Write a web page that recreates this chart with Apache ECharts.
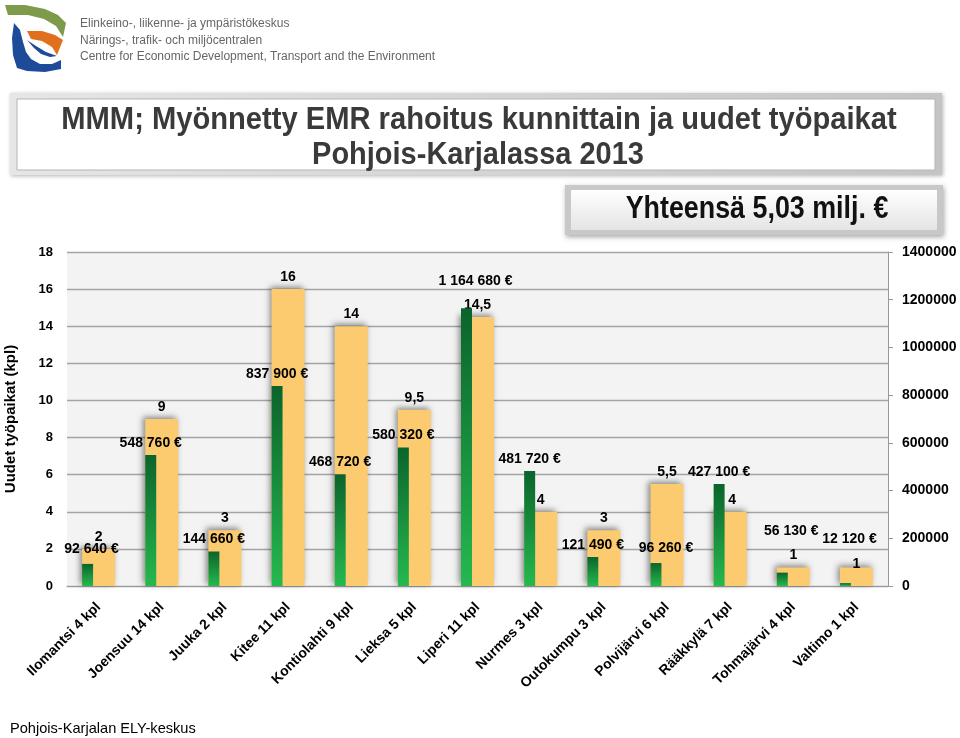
<!DOCTYPE html>
<html>
<head>
<meta charset="utf-8">
<script src="https://cdn.jsdelivr.net/npm/echarts@6/dist/echarts.min.js"></script>
<style>html,body{margin:0;padding:0;background:#fff}#c{width:960px;height:738px}</style>
</head>
<body>
<div id="c"></div>
<script>
const categories = ['Ilomantsi 4 kpl','Joensuu 14 kpl','Juuka 2 kpl','Kitee 11 kpl','Kontiolahti 9 kpl','Lieksa 5 kpl','Liperi 11 kpl','Nurmes 3 kpl','Outokumpu 3 kpl','Polvijärvi 6 kpl','Rääkkylä 7 kpl','Tohmajärvi 4 kpl','Valtimo 1 kpl'];
const jobs = [2, 9, 3, 16, 14, 9.5, 14.5, 4, 3, 5.5, 4, 1, 1];
const funding = [92640, 548760, 144660, 837900, 468720, 580320, 1164680, 481720, 121490, 96260, 427100, 56130, 12120];
const leftTicks = {min: 0, max: 18, interval: 2};
const rightTicks = {min: 0, max: 1400000, interval: 200000};

// label nudges (layout only)
const fundShift = [[4,-3],[0,0],[0,0],[0,0],[0,0],[0,0],[9,-15],[0,0],[0,0],[10,-3],[0,0],[9,-29],[4,-32]];
const jobShift = [[0,0],[0,0],[0,0],[0,0],[0,0],[0,0],[0,0],[0,0],[0,0],[0,0],[2,0],[0,0],[0,9]];

const fmtEur = v => String(v).replace(/\B(?=(\d{3})+(?!\d))/g, ' ') + ' €';
const fmtJob = v => String(v).replace('.', ',');
const FONT = '"Liberation Sans", Arial, sans-serif';

const lin = (x2, y2, stops) => ({type: 'linear', x: 0, y: 0, x2: x2, y2: y2, colorStops: stops.map(s => ({offset: s[0], color: s[1]}))});

const chart = echarts.init(document.getElementById('c'));
const greenGrad = lin(0, 1, [[0, '#0B642B'], [1, '#25B94F']]);

const option = {
  backgroundColor: '#fff',
  animation: false,
  textStyle: {fontFamily: FONT},
  grid: {left: 67, right: 72, top: 252, bottom: 152, show: true, backgroundColor: '#F3F3F3', borderWidth: 0, containLabel: false, outerBoundsMode: 'none'},
  xAxis: {
    type: 'category', data: categories,
    axisLine: {lineStyle: {color: '#999', width: 1}},
    axisTick: {show: false},
    axisLabel: {interval: 0, rotate: 45, fontSize: 14, fontWeight: 'bold', color: '#000', margin: 19, fontFamily: FONT}
  },
  yAxis: [{
    type: 'value', position: 'left', min: leftTicks.min, max: leftTicks.max, interval: leftTicks.interval,
    name: 'Uudet työpaikat (kpl)', nameLocation: 'middle', nameRotate: 90, nameGap: 49,
    nameTextStyle: {fontSize: 15, fontWeight: 'bold', color: '#000', fontFamily: FONT},
    axisLine: {show: false}, axisTick: {show: false},
    axisLabel: {fontSize: 13, fontWeight: 'bold', color: '#000', margin: 14, fontFamily: FONT},
    splitLine: {lineStyle: {color: '#A4A4A4', width: 1.3}}
  }, {
    type: 'value', position: 'right', min: rightTicks.min, max: rightTicks.max, interval: rightTicks.interval,
    axisLine: {show: true, lineStyle: {color: '#999'}},
    axisTick: {show: true, length: 5, lineStyle: {color: '#999'}},
    axisLabel: {fontSize: 14, fontWeight: 'bold', color: '#000', margin: 14, formatter: v => String(v), fontFamily: FONT},
    splitLine: {show: false}
  }],
  series: [{
    name: 'Rahoitus', type: 'bar', yAxisIndex: 1, barWidth: 11, barGap: '-100%', z: 3,
    itemStyle: {color: greenGrad},
    data: funding.map((v, i) => ({value: v, label: {offset: fundShift[i]}})),
    label: {show: true, position: 'top', distance: 5, formatter: p => fmtEur(p.value), fontSize: 14, fontWeight: 'bold', color: '#000', fontFamily: FONT}
  }, {
    name: 'Työpaikat', type: 'bar', yAxisIndex: 0, barWidth: 33, barGap: '-100%', z: 2,
    itemStyle: {color: '#FDCB6F', shadowColor: 'rgba(0,0,0,0.45)', shadowBlur: 6, shadowOffsetX: -2, shadowOffsetY: -2},
    data: jobs.map((v, i) => ({value: v, label: {offset: jobShift[i]}})),
    label: {show: true, position: 'top', distance: 5, formatter: p => fmtJob(p.value), fontSize: 14, fontWeight: 'bold', color: '#000', fontFamily: FONT}
  }],
  graphic: [
    {type: 'polygon', shape: {points: [[5,5],[25,5],[45,9],[58,15],[66,23],[63,37],[56,26],[44,19],[28,15],[8,15]]}, style: {fill: '#7D9B4A'}},
    {type: 'polygon', shape: {points: [[27,31],[42,31],[55,35],[63,40],[57,55],[52,47],[42,41],[31,39]]}, style: {fill: '#E0701E'}},
    {type: 'polygon', shape: {points: [[14,23],[20,30],[23,42],[26,52],[31,59],[40,64],[52,64],[61,60],[61,69],[45,72],[27,71],[17,68],[13,55],[12,38]]}, style: {fill: '#1D4B9A'}},
    {type: 'polygon', shape: {points: [[27,40],[34,48],[41,54],[50,57],[57,56],[46,52],[36,46]]}, style: {fill: '#1D4B9A'}},
    {type: 'text', x: 80, y: 24, style: {text: 'Elinkeino-, liikenne- ja ympäristökeskus', fill: '#666', font: '12px ' + FONT, textVerticalAlign: 'middle'}},
    {type: 'text', x: 80, y: 41, style: {text: 'Närings-, trafik- och miljöcentralen', fill: '#666', font: '12px ' + FONT, textVerticalAlign: 'middle'}},
    {type: 'text', x: 80, y: 57, style: {text: 'Centre for Economic Development, Transport and the Environment', fill: '#666', font: '12px ' + FONT, textVerticalAlign: 'middle'}},
    {type: 'rect', shape: {x: 10, y: 93, width: 932, height: 82}, style: {fill: lin(1, 1, [[0, '#e6e6e6'], [1, '#c4c4c4']]), shadowColor: 'rgba(0,0,0,0.3)', shadowBlur: 4, shadowOffsetX: 1, shadowOffsetY: 1}},
    {type: 'rect', shape: {x: 17, y: 99, width: 918, height: 71}, style: {fill: '#fff', stroke: '#b5b5b5', lineWidth: 1}},
    {type: 'text', x: 479, y: 120, scaleX: 0.94, style: {text: 'MMM; Myönnetty EMR rahoitus kunnittain ja uudet työpaikat', fill: '#3A3A3A', font: 'bold 31px ' + FONT, textAlign: 'center', textVerticalAlign: 'middle'}},
    {type: 'text', x: 478, y: 155, scaleX: 0.935, style: {text: 'Pohjois-Karjalassa 2013', fill: '#3A3A3A', font: 'bold 31px ' + FONT, textAlign: 'center', textVerticalAlign: 'middle'}},
    {type: 'rect', shape: {x: 565, y: 185, width: 378, height: 50}, style: {fill: '#c8c8c8', shadowColor: 'rgba(0,0,0,0.35)', shadowBlur: 5, shadowOffsetX: 1, shadowOffsetY: 2}},
    {type: 'rect', shape: {x: 571, y: 190, width: 366, height: 40}, style: {fill: lin(0, 1, [[0, '#ffffff'], [1, '#e4e4e4']])}},
    {type: 'text', x: 757, y: 209, scaleX: 0.866, style: {text: 'Yhteensä 5,03 milj. €', fill: '#111', font: 'bold 31px ' + FONT, textAlign: 'center', textVerticalAlign: 'middle'}},
    {type: 'text', x: 10, y: 729, style: {text: 'Pohjois-Karjalan ELY-keskus', fill: '#000', font: '14.6px ' + FONT, textVerticalAlign: 'middle'}}
  ]
};
chart.setOption(option);
</script>
</body>
</html>
